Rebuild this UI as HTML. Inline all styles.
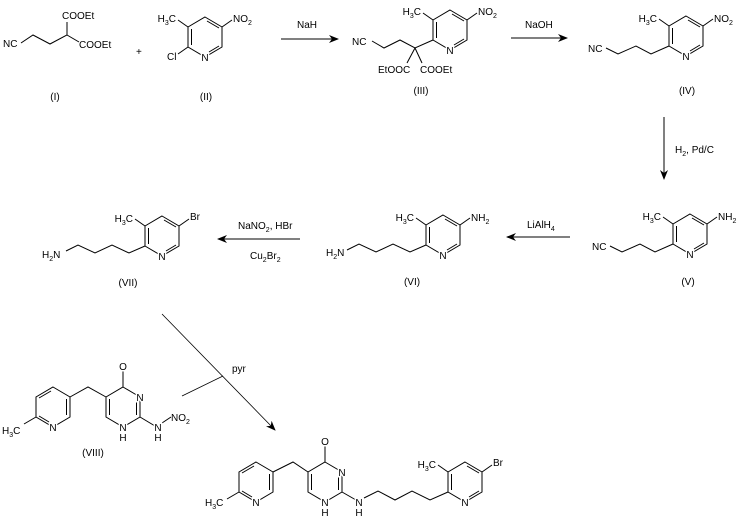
<!DOCTYPE html>
<html><head><meta charset="utf-8"><style>
html,body{margin:0;padding:0;background:#fff;}
svg{display:block;}
text{font-family:"Liberation Sans",Arial,sans-serif;font-size:10px;fill:#000;}
.m{stroke:#fff;stroke-width:3px;paint-order:stroke;}
</style></head><body>
<svg width="743" height="523" viewBox="0 0 743 523" xmlns="http://www.w3.org/2000/svg">
<defs>
<g id="pyA" stroke="#000" stroke-width="1" fill="none">
<polygon points="0,-20 17,-10 17,10 0,20 -17,10 -17,-10"/>
<line x1="-13.5" y1="-8" x2="-13.5" y2="8"/>
<line x1="2" y1="-16" x2="14" y2="-9"/>
<line x1="14" y1="9" x2="4" y2="15"/>
</g>
<g id="pyB" stroke="#000" stroke-width="1" fill="none">
<polygon points="0,-20 17,-10 17,10 0,20 -17,10 -17,-10"/>
<line x1="-14" y1="-9" x2="-2" y2="-16"/>
<line x1="13.5" y1="-8" x2="13.5" y2="8"/>
<line x1="-14" y1="9" x2="-4" y2="15"/>
</g>
<g id="pym" stroke="#000" stroke-width="1" fill="none">
<polygon points="0,-20 17,-10 17,10 0,20 -17,10 -17,-10"/>
<line x1="-13.5" y1="-8" x2="-13.5" y2="8"/>
<line x1="13.5" y1="-8" x2="13.5" y2="8"/>
<line x1="0" y1="-20" x2="0" y2="-36"/>
</g>
<marker id="ah" markerWidth="10" markerHeight="8" refX="9" refY="4" orient="auto" markerUnits="userSpaceOnUse">
<path d="M0,0 L10,4 L0,8 L3,4 Z" fill="#000"/>
</marker>
</defs>

<g stroke="#000" stroke-width="1" fill="none">
<polyline points="21,43 33,35 50,44 67,35 67,22"/>
<line x1="67" y1="35" x2="79" y2="42"/>
<line x1="188" y1="27" x2="178" y2="20"/>
<line x1="222" y1="27" x2="232" y2="20"/>
<line x1="188" y1="47" x2="178" y2="54"/>
<polyline points="372,41 384,48 400,40 415,48 433,40"/>
<line x1="415" y1="48" x2="407" y2="63"/>
<line x1="415" y1="48" x2="422" y2="63"/>
<line x1="433" y1="20" x2="423" y2="13"/>
<line x1="467" y1="20" x2="477" y2="13"/>
<polyline points="669,46 651,54 636,46 618,54 606,48"/>
<line x1="669" y1="26" x2="659" y2="19"/>
<line x1="703" y1="26" x2="713" y2="19"/>
<polyline points="673,244 655,252 640,244 622,252 610,246"/>
<line x1="673" y1="224" x2="663" y2="217"/>
<line x1="707" y1="224" x2="717" y2="217"/>
<polyline points="426,245 410,252 393,244 376,252 359,244 347,250"/>
<line x1="426" y1="225" x2="416" y2="218"/>
<line x1="460" y1="225" x2="470" y2="218"/>
<polyline points="145,246 129,253 112,245 95,253 78,245 66,251"/>
<line x1="145" y1="226" x2="135" y2="219"/>
<line x1="179" y1="226" x2="189" y2="219"/>
<line x1="36" y1="417" x2="24" y2="424"/>
<polyline points="70,397 88,387 106,397"/>
<line x1="140" y1="417" x2="155" y2="426"/>
<line x1="162" y1="423" x2="171" y2="417"/>
<line x1="239" y1="492" x2="227" y2="499"/>
<polyline points="273,472 293,462 308,472"/>
<line x1="342" y1="492" x2="356" y2="500"/>
<polyline points="364,498 378,491 395,500 412,491 430,500 448,492"/>
<line x1="448" y1="472" x2="438" y2="465"/>
<line x1="482" y1="472" x2="492" y2="465"/>
</g>

<use href="#pyA" x="205" y="37"/>
<use href="#pyA" x="450" y="30"/>
<use href="#pyA" x="686" y="36"/>
<use href="#pyA" x="690" y="234"/>
<use href="#pyA" x="443" y="235"/>
<use href="#pyA" x="162" y="236"/>
<use href="#pyA" x="465" y="482"/>
<use href="#pyB" x="256" y="482"/>
<use href="#pym" x="325" y="482"/>
<use href="#pyB" x="53" y="407"/>
<use href="#pym" x="123" y="407"/>

<g stroke="#000" stroke-width="1" fill="none">
<line x1="281" y1="39" x2="338" y2="39" marker-end="url(#ah)"/>
<line x1="511" y1="38" x2="567" y2="38" marker-end="url(#ah)"/>
<line x1="664" y1="117" x2="664" y2="179" marker-end="url(#ah)"/>
<line x1="570" y1="237" x2="507" y2="237" marker-end="url(#ah)"/>
<line x1="300" y1="239" x2="218" y2="239" marker-end="url(#ah)"/>
</g>
<line x1="162" y1="314" x2="275" y2="430" stroke="#000" stroke-width="0.8" marker-end="url(#ah)"/>
<line x1="182" y1="396" x2="223" y2="376" stroke="#000" stroke-width="0.8"/>

<text x="3" y="47">NC</text>
<text x="62" y="19">COOEt</text>
<text x="79" y="48">COOEt</text>
<text x="136" y="55">+</text>
<text x="176" y="22" text-anchor="end">H<tspan font-size="7" dy="3">3</tspan><tspan dy="-3">C</tspan></text>
<text x="233" y="22">NO<tspan font-size="7" dy="3">2</tspan></text>
<text x="167" y="60">Cl</text>
<text x="205" y="61" text-anchor="middle" class="m">N</text>
<text x="55" y="100" text-anchor="middle">(I)</text>
<text x="206" y="100" text-anchor="middle">(II)</text>

<text x="297" y="28">NaH</text>
<text x="352" y="45">NC</text>
<text x="421" y="15" text-anchor="end">H<tspan font-size="7" dy="3">3</tspan><tspan dy="-3">C</tspan></text>
<text x="478" y="15">NO<tspan font-size="7" dy="3">2</tspan></text>
<text x="450" y="54" text-anchor="middle" class="m">N</text>
<text x="378" y="73">EtOOC</text>
<text x="420" y="73">COOEt</text>
<text x="421" y="94" text-anchor="middle">(III)</text>

<text x="525" y="28">NaOH</text>
<text x="588" y="52">NC</text>
<text x="657" y="22" text-anchor="end">H<tspan font-size="7" dy="3">3</tspan><tspan dy="-3">C</tspan></text>
<text x="714" y="22">NO<tspan font-size="7" dy="3">2</tspan></text>
<text x="686" y="60" text-anchor="middle" class="m">N</text>
<text x="687" y="94" text-anchor="middle">(IV)</text>

<text x="675" y="153">H<tspan font-size="7" dy="3">2</tspan><tspan dy="-3">, Pd/C</tspan></text>

<text x="592" y="250">NC</text>
<text x="661" y="220" text-anchor="end">H<tspan font-size="7" dy="3">3</tspan><tspan dy="-3">C</tspan></text>
<text x="718" y="220">NH<tspan font-size="7" dy="3">2</tspan></text>
<text x="690" y="258" text-anchor="middle" class="m">N</text>
<text x="688" y="285" text-anchor="middle">(V)</text>

<text x="527" y="228">LiAlH<tspan font-size="7" dy="3">4</tspan></text>

<text x="326" y="256">H<tspan font-size="7" dy="3">2</tspan><tspan dy="-3">N</tspan></text>
<text x="414" y="221" text-anchor="end">H<tspan font-size="7" dy="3">3</tspan><tspan dy="-3">C</tspan></text>
<text x="471" y="221">NH<tspan font-size="7" dy="3">2</tspan></text>
<text x="443" y="259" text-anchor="middle" class="m">N</text>
<text x="412" y="285" text-anchor="middle">(VI)</text>

<text x="238" y="229">NaNO<tspan font-size="7" dy="3">2</tspan><tspan dy="-3">, HBr</tspan></text>
<text x="250" y="259">Cu<tspan font-size="7" dy="3">2</tspan><tspan dy="-3">Br</tspan><tspan font-size="7" dy="3">2</tspan></text>

<text x="42" y="258">H<tspan font-size="7" dy="3">2</tspan><tspan dy="-3">N</tspan></text>
<text x="133" y="222" text-anchor="end">H<tspan font-size="7" dy="3">3</tspan><tspan dy="-3">C</tspan></text>
<text x="190" y="220">Br</text>
<text x="162" y="260" text-anchor="middle" class="m">N</text>
<text x="128" y="286" text-anchor="middle">(VII)</text>

<text x="232" y="372">pyr</text>

<text x="2" y="434">H<tspan font-size="7" dy="3">3</tspan><tspan dy="-3">C</tspan></text>
<text x="53" y="431" text-anchor="middle" class="m">N</text>
<text x="123" y="370" text-anchor="middle" class="m">O</text>
<text x="140" y="401" text-anchor="middle" class="m">N</text>
<text x="123" y="431" text-anchor="middle" class="m">N</text>
<text x="123" y="441" text-anchor="middle">H</text>
<text x="158" y="431" text-anchor="middle" class="m">N</text>
<text x="158" y="441" text-anchor="middle">H</text>
<text x="171" y="421">NO<tspan font-size="7" dy="3">2</tspan></text>
<text x="93" y="456" text-anchor="middle">(VIII)</text>

<text x="205" y="506">H<tspan font-size="7" dy="3">3</tspan><tspan dy="-3">C</tspan></text>
<text x="256" y="506" text-anchor="middle" class="m">N</text>
<text x="325" y="445" text-anchor="middle" class="m">O</text>
<text x="342" y="476" text-anchor="middle" class="m">N</text>
<text x="325" y="506" text-anchor="middle" class="m">N</text>
<text x="325" y="516" text-anchor="middle">H</text>
<text x="359" y="506" text-anchor="middle" class="m">N</text>
<text x="359" y="516" text-anchor="middle">H</text>
<text x="436" y="468" text-anchor="end">H<tspan font-size="7" dy="3">3</tspan><tspan dy="-3">C</tspan></text>
<text x="493" y="466">Br</text>
<text x="465" y="506" text-anchor="middle" class="m">N</text>
</svg>
</body></html>
